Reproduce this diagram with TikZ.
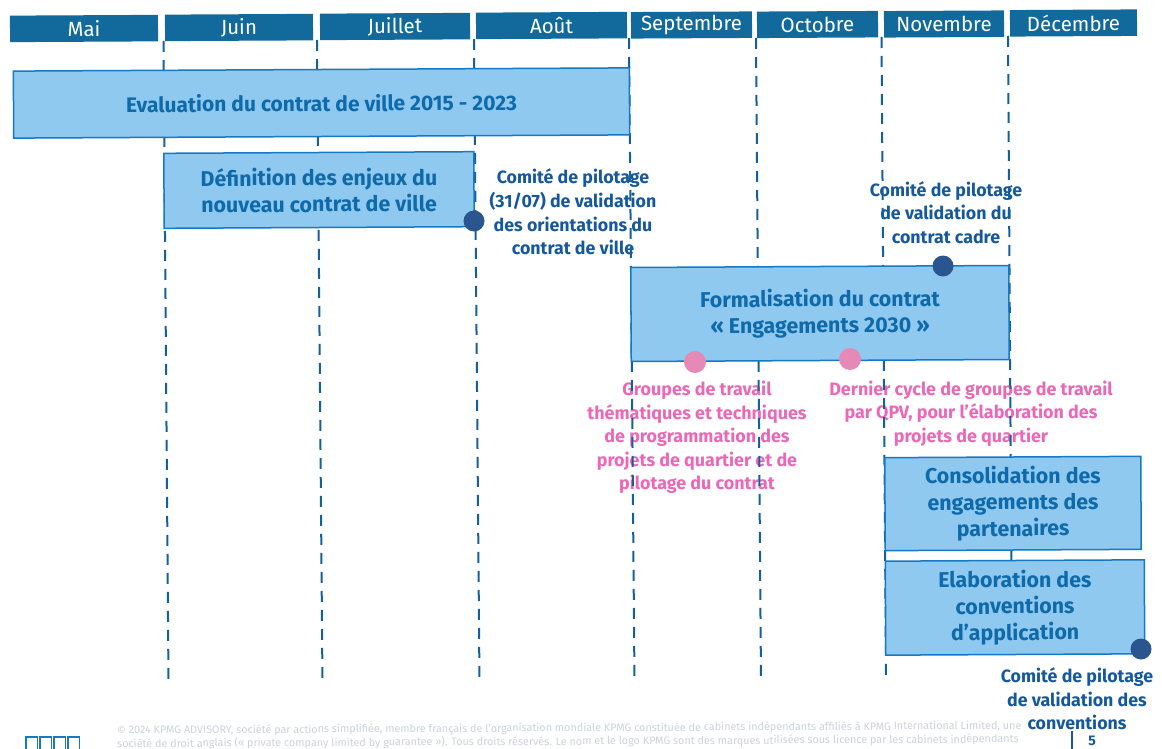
\documentclass[tikz,border=0pt]{standalone}
\usepackage{fontspec}
\setmainfont{Fira Sans}
\definecolor{hdr}{HTML}{12699C}
\definecolor{boxfill}{HTML}{8FC9F0}
\definecolor{boxline}{HTML}{1579C6}
\definecolor{boxtxt}{HTML}{0E6AAB}
\definecolor{darktxt}{HTML}{15599C}
\definecolor{dashc}{HTML}{14609F}
\definecolor{dotdark}{HTML}{2B558F}
\definecolor{dotpink}{HTML}{E58AB6}
\definecolor{pinktxt}{HTML}{EA68B6}
\definecolor{foot}{HTML}{CDD2DB}
\tikzset{
  month/.style={fill=hdr,text=white,minimum height=26.5pt,inner sep=0pt,rotate=0.3,font=\fontsize{20.5}{22}\selectfont},
  bar/.style={draw=boxline,line width=1.5pt,fill=boxfill,text=boxtxt,inner sep=0pt,align=center,rotate=0.3,font=\fontsize{21.4}{26.3}\selectfont\bfseries},
  guide/.style={draw=dashc,line width=2pt,dash pattern=on 11pt off 8pt},
  noteblue/.style={text=darktxt,align=center,inner sep=0pt,font=\fontsize{17.8}{23.6}\selectfont\bfseries},
  notepink/.style={text=pinktxt,align=center,inner sep=0pt,font=\fontsize{17.9}{23.6}\selectfont\bfseries},
  dotb/.style={circle,fill=dotdark,minimum size=21pt,inner sep=0pt},
  dotp/.style={circle,fill=dotpink,minimum size=22pt,inner sep=0pt},
  footnote/.style={text=foot,anchor=west,inner sep=0pt,font=\fontsize{10.8}{12}\selectfont,rotate=0.3},
}
\begin{document}
\begin{tikzpicture}[x=1pt,y=-1pt]
\useasboundingbox (0,0) rectangle (1162,749);
\clip (0,0) rectangle (1162,749);
\fill[white] (0,0) rectangle (1162,749);
% months
\node[month,minimum width=148pt] (m1) at (84,28.5) {Mai};
\node[month,minimum width=148pt] (m2) at (239,27.5) {Juin};
\node[month,minimum width=150pt] (m3) at (395,26.5) {Juillet};
\node[month,minimum width=151pt] (m4) at (551.5,25.5) {Août};
\node[month,minimum width=121pt] (m5) at (691.5,25) {Septembre};
\node[month,minimum width=121pt] (m6) at (817.5,24.5) {Octobre};
\node[month,minimum width=120pt] (m7) at (944,24) {Novembre};
\node[month,minimum width=127pt] (m8) at (1073.5,23) {Décembre};
% notes (crossed by the guides)
\node[noteblue] (n1) at (573,212) {Comité de pilotage\\(31/07) de validation\\des orientations du\\contrat de ville};
\node[noteblue] (n2) at (946,212.5) {Comité de pilotage\\de validation du\\contrat cadre};
\node[notepink] (n3) at (697,437.5) {Groupes de travail\\thématiques et techniques\\de programmation des\\projets de quartier et de\\pilotage du contrat};
\node[notepink] (n4) at (971,413.5) {Dernier cycle de groupes de travail\\par QPV, pour l’élaboration des\\projets de quartier};
% guides
\coordinate (t1) at (163.5,41); \coordinate (b1) at (168.5,683);
\coordinate (t2) at (317,40);   \coordinate (b2) at (322.5,684);
\coordinate (t3) at (474,39);   \coordinate (b3) at (479.5,683);
\coordinate (t4) at (629,38);   \coordinate (b4) at (634.5,682);
\coordinate (t5) at (756,38);   \coordinate (b5) at (761,682);
\coordinate (t6) at (881.5,37); \coordinate (b6) at (886,680);
\coordinate (t7) at (1008,36);  \coordinate (b7) at (1012,660);
\foreach \i in {1,...,7} \draw[guide] (t\i) -- (b\i);
% bars
\node[bar,minimum width=616pt,minimum height=67pt,font=\fontsize{21}{26.3}\selectfont\bfseries] (b-eval) at (321.5,103) {Evaluation du contrat de ville 2015 - 2023};
\node[bar,minimum width=310pt,minimum height=75pt] (b-def) at (319,190) {Définition des enjeux du\\nouveau contrat de ville};
\node[bar,minimum width=378pt,minimum height=94pt] (b-form) at (820,313.5) {Formalisation du contrat\\« Engagements 2030 »};
\node[bar,minimum width=256pt,minimum height=93pt] (b-cons) at (1013,503.5) {Consolidation des\\engagements des\\partenaires};
\node[bar,minimum width=259pt,minimum height=94pt] (b-elab) at (1015,607.5) {Elaboration des\\conventions\\d’application};
% milestones
\node[dotb] (d1) at (474,221) {};
\node[dotb] (d2) at (943,266) {};
\node[dotb] (d3) at (1141,649) {};
\node[dotp] (p1) at (695,362) {};
\node[dotp] (p2) at (850,359) {};
\node[noteblue] (n5) at (1077,699) {Comité de pilotage\\de validation des\\conventions};
% footer
\node[footnote] (f1) at (117,731) {© 2024 KPMG ADVISORY, société par actions simplifiée, membre français de l’organisation mondiale KPMG constituée de cabinets indépendants affiliés à KPMG International Limited, une};
\node[footnote] (f2) at (117,744) {société de droit anglais (« private company limited by guarantee »). Tous droits réservés. Le nom et le logo KPMG sont des marques utilisées sous licence par les cabinets indépendants};
\coordinate (s1) at (1072,731); \coordinate (s2) at (1072,749);
\draw[darktxt,line width=1.5pt] (s1) -- (s2);
\node[text=darktxt,inner sep=0pt,font=\fontsize{14}{15}\selectfont\bfseries] (pg) at (1092,741) {5};
% logo
\foreach \x in {26,40,54,68}
  \draw[boxline,line width=1.2pt] (\x,737) rectangle ++(11.5,16);
\end{tikzpicture}
\end{document}
